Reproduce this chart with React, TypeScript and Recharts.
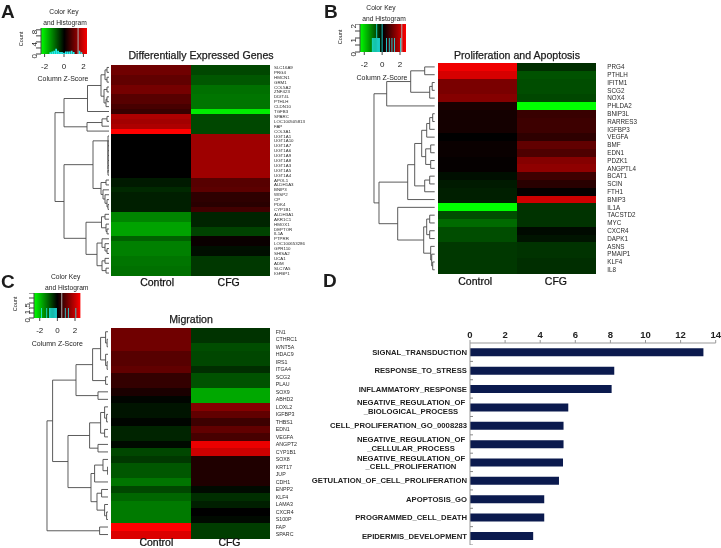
import {
  Bar,
  BarChart,
  Cell,
  ComposedChart,
  ReferenceArea,
  ReferenceLine,
  Scatter,
  ScatterChart,
  XAxis,
  YAxis,
} from "recharts";

type Tree = number | Tree[];

const FONT = "'Liberation Sans', Arial, sans-serif";

// panel A
const genesA = ["SLC16A9", "PRG4", "HMCN1", "GRM1", "COL5A2", "ZNF423", "DDIT4L", "PTHLH", "CLDN10", "TGFB3", "SPARC", "LOC100505813", "FAP", "COL3A1", "UGT1A1", "UGT1A10", "UGT1A7", "UGT1A6", "UGT1A9", "UGT1A8", "UGT1A3", "UGT1A5", "UGT1A4", "APOL1", "ALDH1A3", "BNIP3", "WISP2", "CP", "PDK4", "CYP1B1", "ALDH3A1", "AKR1C1", "HMOX1", "DEPTOR", "IL1A", "PTPRR", "LOC100653286", "GPR110", "SHISA2", "UCA1", "ADM", "SLC7A5", "IGFBP1"];
const controlA = [1.1, 1.1, 0.95, 0.95, 1.15, 1.15, 0.85, 0.85, 0.7, 0.55, 1.7, 1.6, 1.7, 2.5, 0, 0, 0, 0, 0, 0, 0, 0, 0, -0.25, -0.25, -0.4, -0.3, -0.3, -0.3, -0.3, -1.3, -1.3, -1.6, -1.6, -1.6, -0.95, -1.25, -1.25, -1.25, -1.15, -1.15, -1.1, -1.1];
const cfgA = [-0.7, -0.7, -0.85, -0.85, -1.1, -1.1, -1.15, -1.15, -1.15, -2.3, -0.7, -0.7, -0.7, -0.7, 1.55, 1.55, 1.55, 1.55, 1.55, 1.55, 1.55, 1.55, 1.55, 0.85, 0.85, 0.9, 0.45, 0.45, 0.4, 0.65, -0.35, -0.35, -0.35, -0.65, -0.65, 0.1, 0.1, -0.15, -0.15, -0.55, -0.55, -0.55, -0.55];
const treeA: Tree = [54, [45, [21.5, [8, [4, [2, 0, 1], [2, 2, 3]], [5, [2, 4, 5], [3, [2, 6, 7], 8]]], 9], [22, [7, [2, 10, 11], 12], 13]], [45, [16, [1, 14, [1, 15, [1, 16, [1, 17, [1, 18, [1, 19, [1, 20, [1, 21, 22]]]]]]]], [8, [3, 23, 24], [6, 25, [4, 26, [2, 27, [1, 28, 29]]]]]], [23, [7.5, [4, 30, 31], [3, 32, [2, 33, 34]]], [12, [7, 35, [4, 36, [2, 37, 38]]], [7, [4, 39, 40], [3, 41, 42]]]]]];
const histA = [[-1.4, 0.6], [-1.2, 0.8], [-1, 1.1], [-0.8, 1.7], [-0.6, 1.1], [-0.4, 0.7], [-0.2, 0.7], [0, 0.4], [0.2, 0.8], [0.4, 0.8], [0.6, 0.8], [0.8, 1.1], [1, 0.7], [1.6, 1.1], [1.8, 0.6]];

// panel B
const genesB = ["PRG4", "PTHLH", "IFITM1", "SCG2", "NOX4", "PHLDA2", "BNIP3L", "RARRES3", "IGFBP3", "VEGFA", "BMF", "EDN1", "PDZK1", "ANGPTL4", "BCAT1", "SCIN", "FTH1", "BNIP3", "IL1A", "TACSTD2", "MYC", "CXCR4", "DAPK1", "ASNS", "PMAIP1", "KLF4", "IL8"];
const controlB = [2.35, 2.1, 1.2, 1.2, 1.3, 0.25, 0.2, 0.2, 0.2, 0, 0.1, 0.1, 0.05, 0.05, -0.15, -0.25, -0.3, -0.3, -2.5, -0.75, -1.05, -0.75, -0.75, -0.55, -0.55, -0.55, -0.55];
const cfgB = [-0.45, -0.8, -0.75, -0.75, -0.7, -2.5, 0.55, 0.6, 0.6, 0.45, 0.95, 0.75, 1.3, 1.4, 0.6, 0.4, 0.05, 2, -0.5, -0.5, -0.5, -0.1, -0.2, -0.5, -0.5, -0.45, -0.45];
const treeB: Tree = [60.7, [48, [24, [10, 0, 1], [5, [2.5, 2, 3], 4]], 5], [55.7, [27, [20, [13, [8, [5, [2, 6, 7], 8], 9], [9, [4, 10, 11], [4, 12, 13]]], [10, [5, 14, 15], 16]], 17], [37, 18, [11, [8, [5, 19, 20], [5, 21, 22]], [4, 23, [3, 24, [2, 25, 26]]]]]]];
const histB = [[-1.1, 1], [-1, 1], [-0.9, 1], [-0.8, 1], [-0.7, 1], [-0.6, 2], [-0.5, 1], [-0.4, 1], [-0.3, 1], [0, 2], [0.5, 1], [0.8, 1], [1.1, 1], [1.4, 1], [2.05, 1]];

// panel C
const genesC = ["FN1", "CTHRC1", "WNT5A", "HDAC9", "IRS1", "ITGA4", "SCG2", "PLAU", "SOX9", "ABHD2", "LOXL2", "IGFBP3", "THBS1", "EDN1", "VEGFA", "ANGPT2", "CYP1B1", "SOX8", "KRT17", "JUP", "CDH1", "ENPP2", "KLF4", "LAMA3", "CXCR4", "S100P", "FAP", "SPARC"];
const controlC = [1.1, 1.1, 1.1, 0.85, 0.85, 0.95, 0.5, 0.5, 0.25, -0.05, -0.2, -0.2, -0.05, -0.35, -0.35, -0.1, -0.7, -0.55, -0.85, -0.85, -1.15, -0.7, -1, -1.2, -1.2, -1.2, 2.5, 2.15];
const cfgC = [-0.5, -0.5, -0.75, -0.7, -0.7, -0.45, -0.8, -0.8, -1.65, -1.65, 1.3, 0.95, 0.6, 0.95, 0.7, 2.3, 2, 0.3, 0.3, 0.3, 0.3, -0.1, -0.45, -0.3, 0, -0.1, -0.6, -0.6];
const treeC: Tree = [61.6, [56, [32.6, [16, [8, [3, 0, [1.5, 1, 2]], [3, 3, [1.5, 4, 5]]], [3, 6, 7]], [10.6, 8, 9]], [40.6, [19, [8, [4, 10, [2, 11, 12]], [4, 13, 14]], [10.6, 15, 16]], [17.6, [14, [5.6, 17, [1, 18, 19]], 20], [11.6, [7, 21, 22], [4, 23, [2, 24, 25]]]]]], [9, 26, 27]];
const histC = [[-1.8, 1], [-1.2, 1], [-0.9, 1], [-0.8, 1], [-0.7, 1], [-0.6, 1], [-0.5, 1], [-0.4, 1], [-0.3, 1], [-0.2, 1], [-0.1, 1], [0.9, 1], [1.25, 1], [2.1, 1]];

// panel D
const termLabels = [
  ["SIGNAL_TRANSDUCTION"],
  ["RESPONSE_TO_STRESS"],
  ["INFLAMMATORY_RESPONSE"],
  ["NEGATIVE_REGULATION_OF", "_BIOLOGICAL_PROCESS"],
  ["CELL_PROLIFERATION_GO_0008283"],
  ["NEGATIVE_REGULATION_OF", "_CELLULAR_PROCESS"],
  ["NEGATIVE_REGULATION_OF", "_CELL_PROLIFERATION"],
  ["GETULATION_OF_CELL_PROLIFERATION"],
  ["APOPTOSIS_GO"],
  ["PROGRAMMED_CELL_DEATH"],
  ["EPIDERMIS_DEVELOPMENT"],
];
const termValues = [13.3, 8.22, 8.07, 5.6, 5.33, 5.33, 5.3, 5.07, 4.23, 4.23, 3.6];
const termTicks = [0, 2, 4, 6, 8, 10, 12, 14];

function zColor(z: number) {
  const v = Math.min(255, Math.round((Math.abs(z) / 2.5) * 255));
  return z >= 0 ? `rgb(${v},0,0)` : `rgb(0,${v},0)`;
}

function treeLinks(tree: Tree, links: { x: number; y: number }[][] = []) {
  if (typeof tree === "number") return { h: 0, y: tree + 0.5, links };
  const [h, a, b] = tree as [number, Tree, Tree];
  const l = treeLinks(a, links);
  const r = treeLinks(b, links);
  links.push([
    { x: l.h, y: l.y },
    { x: h, y: l.y },
    { x: h, y: r.y },
    { x: r.h, y: r.y },
  ]);
  return { h, y: (l.y + r.y) / 2, links };
}

function Txt({ x, y, size, bold, heavy, rotate, anchor, children }: any) {
  const tx = anchor === "start" ? "0" : "-50%";
  return (
    <div
      style={{
        position: "absolute",
        left: x,
        top: y,
        fontSize: size,
        fontWeight: bold ? "bold" : "normal",
        WebkitTextStroke: heavy ? "0.25px #1c1c1c" : undefined,
        color: "#1c1c1c",
        whiteSpace: "nowrap",
        lineHeight: 1,
        transform: `translate(${tx},-50%) rotate(${rotate || 0}deg)`,
      }}
    >
      {children}
    </div>
  );
}

function Dendrogram({ tree, rows, right, top, height }: any) {
  const { links, h } = treeLinks(tree);
  const width = h + 2;
  return (
    <div style={{ position: "absolute", left: right - width, top, width, height }}>
      <ScatterChart width={width} height={height} margin={{ top: 0, right: 0, bottom: 0, left: 0 }}>
        <XAxis type="number" dataKey="x" domain={[0, width]} reversed hide />
        <YAxis type="number" dataKey="y" domain={[0, rows]} reversed hide />
        {links.map((pts: any, i: number) => (
          <Scatter
            key={i}
            data={pts}
            line={{ stroke: "#4a4a4a", strokeWidth: 0.9 }}
            shape={() => <g />}
            isAnimationActive={false}
          />
        ))}
      </ScatterChart>
    </div>
  );
}

function Heatmap({ genes, control, cfg, tree, left, top, w, h, labelSize, labelGap, leafEnd, ticks, colMargin }: any) {
  const data = genes.map((g: string) => ({ gene: g, a: 1, b: 1 }));
  const labelW = 60;
  return (
    <>
      <div style={{ position: "absolute", left, top }}>
        <BarChart
          width={w + labelW}
          height={h + 20}
          data={data}
          layout="vertical"
          barCategoryGap={0}
          margin={{ top: 0, right: 0, bottom: 0, left: 0 }}
        >
          <XAxis
            type="number"
            domain={[0, 2]}
            ticks={ticks}
            interval={0}
            height={20}
            axisLine={false}
            tickLine={false}
            tickSize={0}
            tickMargin={colMargin}
            tick={{ fontSize: 10.5, fill: "#111", stroke: "#111", strokeWidth: 0.25 }}
            tickFormatter={(v: number) => (v < 1 ? "Control" : "CFG")}
          />
          <YAxis
            type="category"
            dataKey="gene"
            orientation="right"
            width={labelW}
            interval={0}
            axisLine={false}
            tickLine={false}
            tickSize={0}
            tickMargin={labelGap}
            tick={{ fontSize: labelSize, fill: "#2a2a2a" }}
          />
          <Bar dataKey="a" stackId="s" isAnimationActive={false}>
            {control.map((z: number, i: number) => (
              <Cell key={i} fill={zColor(z)} shapeRendering="crispEdges" />
            ))}
          </Bar>
          <Bar dataKey="b" stackId="s" isAnimationActive={false}>
            {cfg.map((z: number, i: number) => (
              <Cell key={i} fill={zColor(z)} shapeRendering="crispEdges" />
            ))}
          </Bar>
        </BarChart>
      </div>
      <Dendrogram tree={tree} rows={genes.length} right={leafEnd} top={top} height={h} />
    </>
  );
}

function ColorKey({ id, hist, left, top, w, h, domain, yMax, yTicks, yLabels, mean, barSize }: any) {
  const data = hist.map((d: number[]) => ({ z: d[0], count: d[1] }));
  const axisW = 20;
  return (
    <div style={{ position: "absolute", left: left - axisW, top }}>
      <ComposedChart
        width={w + axisW}
        height={h + 22}
        data={data}
        margin={{ top: 0, right: 0, bottom: 0, left: 0 }}
      >
        <defs>
          <linearGradient id={id} x1="0" y1="0" x2="1" y2="0">
            <stop offset="0%" stopColor="#00ff00" />
            <stop offset="50%" stopColor="#000000" />
            <stop offset="100%" stopColor="#ff0000" />
          </linearGradient>
        </defs>
        <XAxis
          type="number"
          dataKey="z"
          domain={domain}
          ticks={[-2, 0, 2]}
          interval={0}
          allowDataOverflow
          height={22}
          stroke="#444"
          axisLine={false}
          tickSize={3}
          tickMargin={6}
          tick={{ fontSize: 8, fill: "#222" }}
        />
        <YAxis
          type="number"
          domain={[0, yMax]}
          ticks={yTicks}
          interval={0}
          width={axisW}
          stroke="#444"
          tickSize={5}
          tickMargin={2}
          angle={-90}
          tick={{ fontSize: 8, fill: "#222" }}
          tickFormatter={(v: number) => (yLabels.includes(v) ? String(v) : "")}
        />
        <ReferenceArea x1={domain[0]} x2={domain[1]} y1={0} y2={yMax} fill={`url(#${id})`} fillOpacity={1} stroke="none" />
        <Bar dataKey="count" fill="#20f0f0" barSize={barSize} isAnimationActive={false} />
        <ReferenceLine x={mean} stroke="#b0b0b0" strokeWidth={1} />
      </ComposedChart>
    </div>
  );
}

function TermTick({ x, y, index }: any) {
  const lines = termLabels[index];
  const bandEdge = 9.2;
  return (
    <g>
      <line x1={x + 3} x2={x + 6} y1={y + bandEdge} y2={y + bandEdge} stroke="#888" />
      {lines.length === 1 ? (
        <text x={x} y={y + 2.7} textAnchor="end" fontSize={7.7} fontWeight="bold" fill="#222">
          {lines[0]}
        </text>
      ) : (
        lines.map((t: string, i: number) => (
          <text key={i} x={x - 56} y={y - 1.8 + i * 8.4} textAnchor="middle" fontSize={7.7} fontWeight="bold" fill="#222">
            {t}
          </text>
        ))
      )}
    </g>
  );
}

function TermChart() {
  const data = termValues.map((v, i) => ({ term: i, value: v }));
  return (
    <div style={{ position: "absolute", left: 300, top: 322 }}>
      <BarChart
        width={421}
        height={223}
        data={data}
        layout="vertical"
        barCategoryGap="29%"
        margin={{ top: 0, right: 5.3, bottom: 0, left: 0 }}
      >
        <XAxis
          type="number"
          orientation="top"
          domain={[0, 14]}
          ticks={termTicks}
          interval={0}
          height={21}
          stroke="#999"
          tickSize={3}
          tickMargin={2}
          tick={{ fontSize: 9.5, fontWeight: "bold", fill: "#222" }}
        />
        <YAxis
          type="category"
          dataKey="term"
          width={170}
          interval={0}
          stroke="#999"
          tickLine={false}
          tickSize={0}
          tickMargin={3}
          tick={<TermTick />}
        />
        <Bar dataKey="value" fill="#0b1a4e" isAnimationActive={false} />
      </BarChart>
    </div>
  );
}

export default function App() {
  return (
    <div
      style={{
        position: "absolute",
        left: 0,
        top: 0,
        width: 721,
        height: 548,
        overflow: "hidden",
        background: "#fff",
        fontFamily: FONT,
        filter: "blur(0.35px)",
      }}
    >
      <style>{`text { font-family: ${FONT}; }`}</style>

      <Txt x={1} y={10.6} size={19} bold anchor="start">A</Txt>
      <Txt x={324} y={10.6} size={19} bold anchor="start">B</Txt>
      <Txt x={1} y={281.4} size={19} bold anchor="start">C</Txt>
      <Txt x={323} y={280.4} size={19} bold anchor="start">D</Txt>

      <Txt x={64} y={12} size={6.7}>Color Key</Txt>
      <Txt x={65} y={23} size={6.7}>and Histogram</Txt>
      <Txt x={63} y={78} size={7}>Column Z-Score</Txt>
      <Txt x={22} y={39} size={5.5} rotate={-90}>Count</Txt>
      <Txt x={201} y={55} size={10.6} heavy>Differentially Expressed Genes</Txt>
      <ColorKey id="keyA" hist={histA} left={40.7} top={28} w={46.6} h={26} domain={[-2.37, 2.43]} yMax={8.6} yTicks={[0, 2, 4, 6, 8]} yLabels={[0, 4, 8]} mean={1.45} barSize={2} />
      <Heatmap genes={genesA} control={controlA} cfg={cfgA} tree={treeA} left={111} top={64.5} w={159} h={210.5} labelSize={4.4} labelGap={4} leafEnd={108.5} ticks={[0.58, 1.48]} colMargin={3} />

      <Txt x={381} y={8} size={6.7}>Color Key</Txt>
      <Txt x={384} y={19} size={6.7}>and Histogram</Txt>
      <Txt x={382} y={76.7} size={7}>Column Z-Score</Txt>
      <Txt x={340.7} y={37} size={5.5} rotate={-90}>Count</Txt>
      <Txt x={517} y={55} size={10.6} heavy>Proliferation and Apoptosis</Txt>
      <ColorKey id="keyB" hist={histB} left={360} top={24.3} w={46} h={28} domain={[-2.48, 2.67]} yMax={2} yTicks={[0, 0.5, 1, 1.5, 2]} yLabels={[0, 1, 2]} mean={2.2} barSize={1.5} />
      <Heatmap genes={genesB} control={controlB} cfg={cfgB} tree={treeB} left={438} top={63.3} w={158.3} h={210.7} labelSize={6.3} labelGap={11} leafEnd={435} ticks={[0.47, 1.49]} colMargin={4} />

      <Txt x={65.7} y={277} size={6.7}>Color Key</Txt>
      <Txt x={66.7} y={288.3} size={6.7}>and Histogram</Txt>
      <Txt x={57.3} y={342.7} size={7}>Column Z-Score</Txt>
      <Txt x={15.7} y={304} size={5.5} rotate={-90}>Count</Txt>
      <Txt x={191} y={319} size={10.6} heavy>Migration</Txt>
      <ColorKey id="keyC" hist={histC} left={34.3} top={293.3} w={46.4} h={25} domain={[-2.65, 2.61]} yMax={2.5} yTicks={[0, 0.5, 1, 1.5, 2, 2.5]} yLabels={[0, 1.5]} mean={0.5} barSize={1.5} />
      <Heatmap genes={genesC} control={controlC} cfg={cfgC} tree={treeC} left={111} top={327.7} w={159} h={210.3} labelSize={5.3} labelGap={5.7} leafEnd={108.3} ticks={[0.57, 1.49]} colMargin={0.2} />

      <TermChart />
    </div>
  );
}
